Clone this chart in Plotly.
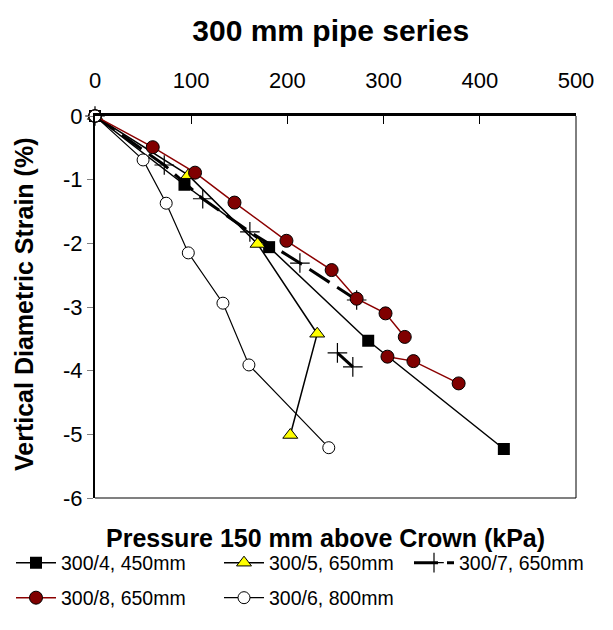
import plotly.graph_objects as go

# Data (Pressure kPa, strain %)
s4_x = [0, 93, 181, 284, 425]
s4_y = [0, -1.08, -2.06, -3.53, -5.23]

s5_x = [0, 97, 169, 231, 203]
s5_y = [0, -0.93, -2.01, -3.42, -5.01]

s7_x = [0, 72, 112, 161, 213, 272, None, 252, 268]
s7_y = [0, -0.77, -1.30, -1.82, -2.31, -2.89, None, -3.72, -3.94]

s8_x = [0, 60, 104, 145, 199, 246, 272, 302, 322, None, 304, 331, 378]
s8_y = [0, -0.49, -0.89, -1.36, -1.96, -2.42, -2.87, -3.10, -3.47, None, -3.78, -3.85, -4.20]

s6_x = [0, 50, 74, 97, 133, 160, 243]
s6_y = [0, -0.69, -1.37, -2.15, -2.94, -3.91, -5.21]

names = ["300/4, 450mm", "300/5, 650mm", "300/7, 650mm", "300/8, 650mm", "300/6, 800mm"]

y_tickvals = [0, -1, -2, -3, -4, -5, -6]
y_ticktext = ["0", "-1", "-2", "-3", "-4", "-5", "-6"]

fig = go.Figure()
fig.add_trace(go.Scatter(x=s4_x, y=s4_y, name=names[0], mode="lines+markers",
                         line=dict(color="black", width=1.5),
                         marker=dict(symbol="square", size=12, color="black"),
                         cliponaxis=False, legend="legend"))
fig.add_trace(go.Scatter(x=s5_x, y=s5_y, name=names[1], mode="lines+markers",
                         line=dict(color="black", width=1.5),
                         marker=dict(symbol="triangle-up", size=13, color="#FFFF00",
                                     line=dict(color="black", width=1)),
                         cliponaxis=False, legend="legend2"))
fig.add_trace(go.Scatter(x=s7_x, y=s7_y, name=names[2], mode="lines+markers",
                         line=dict(color="black", width=3, dash="24px,9px"),
                         marker=dict(symbol="cross-thin", size=14, color="black",
                                     line=dict(color="black", width=1.2)),
                         connectgaps=False, cliponaxis=False, legend="legend3"))
fig.add_trace(go.Scatter(x=s8_x, y=s8_y, name=names[3], mode="lines+markers",
                         line=dict(color="#8B0000", width=1.5),
                         marker=dict(symbol="circle", size=13, color="#800000",
                                     line=dict(color="black", width=1)),
                         connectgaps=False, cliponaxis=False, legend="legend4"))
fig.add_trace(go.Scatter(x=s6_x, y=s6_y, name=names[4], mode="lines+markers",
                         line=dict(color="black", width=1.2),
                         marker=dict(symbol="circle", size=12, color="white",
                                     line=dict(color="black", width=1)),
                         cliponaxis=False, legend="legend5"))

font = "Liberation Sans, Arial, sans-serif"
W, H = 613, 630
PL, PR, PT, PB = 95, 576, 116, 498  # plot area in pixels


def leg(px, py):
    return dict(xref="container", yref="container", x=px / W, y=1 - py / H,
                xanchor="left", yanchor="middle", orientation="h",
                font=dict(size=19.5), itemwidth=40, bgcolor="rgba(0,0,0,0)",
                borderwidth=0)


fig.update_layout(
    width=W, height=H,
    margin=dict(l=PL, r=W - PR, t=PT, b=H - PB, autoexpand=False),
    paper_bgcolor="white", plot_bgcolor="white",
    font=dict(family=font, size=20, color="black"),
    title=dict(text="<b>300 mm pipe series</b>", x=0.49, xref="paper",
               y=1 - 30 / H, yref="container", yanchor="middle", font=dict(size=30)),
    showlegend=True,
    legend=leg(11, 563),
    legend2=leg(219, 563),
    legend3=leg(409, 563),
    legend4=leg(11, 598),
    legend5=leg(219, 598),
    xaxis=dict(range=[0, 500], dtick=100, side="top", showgrid=False, zeroline=False,
               showline=True, linecolor="black", linewidth=2.5,
               ticks="inside", ticklen=8, tickcolor="black", tickwidth=1,
               ticklabelstandoff=16, tickfont=dict(size=22)),
    yaxis=dict(range=[-6, 0], tickmode="array", tickvals=y_tickvals, ticktext=y_ticktext,
               showgrid=False, zeroline=False,
               showline=True, linecolor="black", linewidth=2,
               ticks="outside", ticklen=6, tickcolor="gray", tickwidth=1,
               tickfont=dict(size=22)),
    annotations=[
        dict(text="<b>Pressure 150 mm above Crown (kPa)</b>", xref="paper",
             yref="paper", x=0.48, y=(PB - 538) / (PB - PT), xanchor="center",
             yanchor="middle", showarrow=False, font=dict(size=25)),
        dict(text="<b>Vertical Diametric Strain (%)</b>", xref="paper",
             yref="paper", x=(24 - PL) / (PR - PL), y=(PB - 305) / (PB - PT),
             xanchor="center", yanchor="middle", textangle=-90, showarrow=False,
             font=dict(size=25)),
    ],
    shapes=[
        dict(type="line", xref="paper", yref="paper", x0=0, x1=1, y0=0, y1=0,
             line=dict(color="gray", width=2)),
        dict(type="line", xref="paper", yref="paper", x0=1, x1=1, y0=0, y1=1,
             line=dict(color="black", width=1)),
    ],
)

fig.write_html("out.html")
